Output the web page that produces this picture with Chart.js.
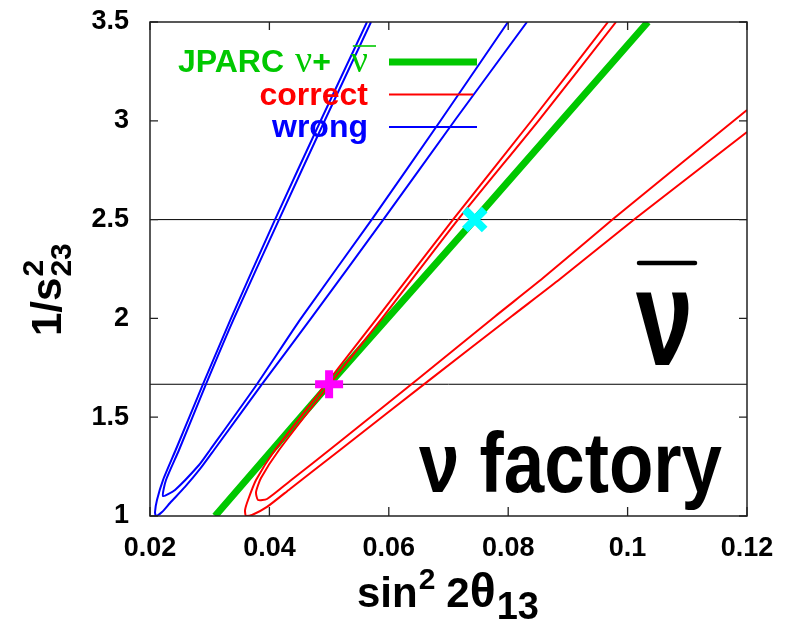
<!DOCTYPE html>
<html><head><meta charset="utf-8">
<script src="https://cdn.jsdelivr.net/npm/chart.js@4.4.1/dist/chart.umd.min.js"></script>
<style>html,body{margin:0;padding:0;background:#fff;}canvas{display:block;}</style>
</head><body>
<canvas id="c" width="796" height="623"></canvas>
<script>
// ---- tick values / labels ----
const xTickValues = [0.02, 0.04, 0.06, 0.08, 0.10, 0.12];
const xTickLabels = ["0.02", "0.04", "0.06", "0.08", "0.1", "0.12"];
const yTickValues = [1, 1.5, 2, 2.5, 3, 3.5];
const yTickLabels = ["1", "1.5", "2", "2.5", "3", "3.5"];

// ---- legend ----
const legendLabels = ["JPARC \u03bd+ \u03bd\u0304", "correct", "wrong"];

// ---- JPARC nu + nubar band (green) ----
const jparcX = [0.0309, 0.0500, 0.0744, 0.1034];
const jparcY = [1.0, 1.667, 2.5, 3.5];

// ---- correct-octant contour (red), outer and inner lines ----
const correctOuterX = [0.09672, 0.08399, 0.07075, 0.05802, 0.04948, 0.04094, 0.03776, 0.03642, 0.03592, 0.03608, 0.03709, 0.0396, 0.04345, 0.0473, 0.05183, 0.0669, 0.08064, 0.08868, 0.10141, 0.12];
const correctOuterY = [3.5, 3.004, 2.5, 2.0, 1.668, 1.334, 1.182, 1.081, 1.030, 1.0, 1.005, 1.046, 1.137, 1.228, 1.334, 1.690, 2.012, 2.199, 2.508, 2.943];
const correctInnerX = [0.09806, 0.08516, 0.07159, 0.05886, 0.05015, 0.04161, 0.03859, 0.03776, 0.03809, 0.0396, 0.04345, 0.0473, 0.05183, 0.06489, 0.07779, 0.08583, 0.09772, 0.12];
const correctInnerY = [3.5, 3.004, 2.5, 2.0, 1.668, 1.334, 1.192, 1.121, 1.081, 1.086, 1.177, 1.268, 1.377, 1.693, 2.010, 2.204, 2.507, 3.055];

// ---- wrong-octant contour (blue), outer and inner lines ----
const wrongOuterX = [0.05635, 0.04864, 0.04094, 0.03357, 0.02888, 0.0243, 0.02218, 0.02117, 0.02084, 0.0210, 0.02201, 0.02335, 0.02586, 0.02838, 0.03072, 0.03876, 0.04697, 0.05908, 0.0711, 0.08315];
const wrongOuterY = [3.5, 3.004, 2.5, 2.0, 1.667, 1.334, 1.182, 1.081, 1.02, 1.0, 1.02, 1.066, 1.147, 1.238, 1.334, 1.667, 2.0, 2.5, 3.004, 3.5];
const wrongInnerX = [0.05702, 0.04931, 0.04161, 0.03407, 0.02938, 0.02486, 0.02268, 0.02218, 0.02419, 0.02821, 0.03005, 0.03792, 0.04529, 0.05714, 0.06874, 0.07997];
const wrongInnerY = [3.5, 3.004, 2.5, 2.0, 1.667, 1.334, 1.182, 1.101, 1.132, 1.258, 1.334, 1.667, 2.0, 2.5, 3.004, 3.5];

// ---- true points and reference lines ----
const plusX = [0.0500], plusY = [1.6667];
const crossX = [0.0744], crossY = [2.5];
const refLineY = [2.5, 1.6667];
const refLineX = [0.02, 0.12];

const zip = (xs, ys) => xs.map((x, i) => ({x: x, y: ys[i]}));

const SANS = '"Liberation Sans", Arial, Helvetica, sans-serif';
const SERIF = '"Liberation Serif", "Times New Roman", serif';

const lineDS = (data, color, width, order, tension) => ({
  data: data, showLine: true, borderColor: color, backgroundColor: color,
  borderWidth: width, pointRadius: 0, fill: false, tension: tension, order: order
});

const datasets = [
  {data: zip(plusX, plusY), showLine: false, pointStyle: 'cross', pointRadius: 14,
   pointBorderWidth: 8, pointBorderColor: '#ff00ff', pointBackgroundColor: '#ff00ff', order: 0},
  {data: zip(crossX, crossY), showLine: false, pointStyle: 'crossRot', pointRadius: 14,
   pointBorderWidth: 8, pointBorderColor: '#00ffff', pointBackgroundColor: '#00ffff', order: 0},
  lineDS(zip(correctOuterX, correctOuterY), '#ff0000', 2, 1, 0.2),
  lineDS(zip(correctInnerX, correctInnerY), '#ff0000', 2, 1, 0.2),
  lineDS(zip(wrongOuterX, wrongOuterY), '#0000ff', 2, 1, 0.2),
  lineDS(zip(wrongInnerX, wrongInnerY), '#0000ff', 2, 1, 0.2),
  lineDS(zip(jparcX, jparcY), '#00c800', 7, 2, 0),
  lineDS(zip(refLineX, [refLineY[0], refLineY[0]]), '#000000', 1, 3, 0),
  lineDS(zip(refLineX, [refLineY[1], refLineY[1]]), '#000000', 1, 3, 0)
];

const framePlugin = {
  id: 'frame',
  afterDatasetsDraw(chart) {
    const {ctx, chartArea: a, scales: {x, y}} = chart;
    ctx.save();
    ctx.strokeStyle = '#222';
    ctx.lineWidth = 1.5;
    ctx.strokeRect(a.left, a.top, a.right - a.left, a.bottom - a.top);
    ctx.lineWidth = 1.3;
    ctx.beginPath();
    xTickValues.forEach(v => {
      const px = x.getPixelForValue(v);
      ctx.moveTo(px, a.bottom); ctx.lineTo(px, a.bottom - 9);
      ctx.moveTo(px, a.top); ctx.lineTo(px, a.top + 8);
    });
    yTickValues.forEach(v => {
      const py = y.getPixelForValue(v);
      ctx.moveTo(a.left, py); ctx.lineTo(a.left + 8, py);
      ctx.moveTo(a.right, py); ctx.lineTo(a.right - 8, py);
    });
    ctx.stroke();
    ctx.restore();
  }
};

function drawPieces(ctx, pieces, x, baseline) {
  pieces.forEach(p => {
    ctx.font = p.font;
    ctx.fillText(p.t, x, baseline + (p.dy || 0));
    x += ctx.measureText(p.t).width + (p.gap || 0);
  });
  return x;
}

const textPlugin = {
  id: 'texts',
  afterDraw(chart) {
    const ctx = chart.ctx;
    ctx.save();
    ctx.textBaseline = 'alphabetic';
    ctx.textAlign = 'left';
    const ds = chart.data.datasets;
    // legend
    const legendColors = [ds[6].borderColor, ds[2].borderColor, ds[4].borderColor];
    const legendWidths = [7, 2, 2];
    const rowY = [62, 94.5, 127];
    const rightX = 368;
    legendLabels.forEach((lab, i) => {
      ctx.fillStyle = legendColors[i];
      if (i === 0) {
        const parts = lab.split(' ');
        const bold = 'bold 32px ' + SANS;
        const nuF = '38px ' + SERIF;
        const pieces = [
          {t: parts[0] + ' ', font: bold, gap: 2},
          {t: '\u03bd', font: nuF},
          {t: '+', font: bold, gap: 20},
          {t: '\u03bd', font: nuF}
        ];
        let w = 0;
        pieces.forEach(p => { ctx.font = p.font; w += ctx.measureText(p.t).width + (p.gap || 0); });
        const start = rightX - w;
        drawPieces(ctx, pieces, start, rowY[i] + 10);
        ctx.font = nuF;
        const nuW = ctx.measureText('\u03bd').width;
        ctx.strokeStyle = legendColors[i];
        ctx.lineWidth = 1.6;
        ctx.beginPath();
        ctx.moveTo(rightX - nuW + 2, rowY[i] - 16);
        ctx.lineTo(rightX + 8, rowY[i] - 16);
        ctx.stroke();
      } else {
        ctx.font = 'bold 32px ' + SANS;
        ctx.textAlign = 'right';
        ctx.fillText(lab, rightX, rowY[i] + 10);
        ctx.textAlign = 'left';
      }
      ctx.strokeStyle = legendColors[i];
      ctx.lineWidth = legendWidths[i];
      ctx.beginPath();
      ctx.moveTo(389, rowY[i]);
      ctx.lineTo(i === 1 ? 473 : 477, rowY[i]);
      ctx.stroke();
    });

    // annotation: nu factory
    ctx.fillStyle = '#000';
    ctx.font = 'bold 86px ' + SANS;
    let tw = ctx.measureText('\u03bd factory').width;
    ctx.save();
    ctx.translate(419, 492);
    ctx.scale(303 / tw, 1);
    ctx.fillText('\u03bd factory', 0, 0);
    ctx.restore();

    // annotation: nu-bar
    ctx.font = 'bold 138px ' + SANS;
    tw = ctx.measureText('\u03bd').width;
    ctx.save();
    ctx.translate(636, 365);
    ctx.scale(57 / tw, 1);
    ctx.fillText('\u03bd', 0, 0);
    ctx.restore();
    ctx.strokeStyle = '#000';
    ctx.lineWidth = 4.5;
    ctx.lineCap = 'round';
    ctx.beginPath();
    ctx.moveTo(639, 263); ctx.lineTo(695, 263);
    ctx.stroke();

    // x axis title
    const big = 'bold 42px ' + SANS;
    const sup = 'bold 30px ' + SANS;
    const sub = 'bold 38px ' + SANS;
    drawPieces(ctx, [
      {t: 'sin', font: big, gap: 1},
      {t: '2', font: sup, dy: -18, gap: 11},
      {t: '2', font: big},
      {t: '\u03b8', font: 'bold 48px ' + SANS, gap: 1},
      {t: '13', font: sub, dy: 12}
    ], 357, 607);

    // y axis title (rotated)
    ctx.save();
    ctx.translate(61, 336);
    ctx.rotate(-Math.PI / 2);
    let px = drawPieces(ctx, [{t: '1/s', font: big}], 0, 0);
    ctx.font = sup;
    ctx.fillText('2', px + 1, -18);
    ctx.fillText('23', px + 1, 10);
    ctx.restore();

    ctx.restore();
  }
};

new Chart(document.getElementById('c'), {
  type: 'scatter',
  data: {datasets: datasets},
  options: {
    responsive: false,
    animation: false,
    events: [],
    layout: {padding: {left: 0, top: 22, right: 49, bottom: 0}},
    plugins: {legend: {display: false}, tooltip: {enabled: false}},
    scales: {
      x: {
        type: 'linear', min: 0.02, max: 0.12,
        afterBuildTicks: s => { s.ticks = xTickValues.map(v => ({value: v})); },
        afterFit: s => { s.height = 107; s.paddingLeft = 0; s.paddingRight = 0; },
        ticks: {
          autoSkip: false, maxRotation: 0, padding: 16, color: '#000',
          font: {family: SANS, size: 27, weight: 'bold'},
          callback: (v, i) => xTickLabels[i]
        },
        grid: {display: false, drawTicks: false},
        border: {display: false}
      },
      y: {
        type: 'linear', min: 1, max: 3.5,
        afterBuildTicks: s => { s.ticks = yTickValues.map(v => ({value: v})); },
        afterFit: s => { s.width = 150; s.paddingTop = 0; s.paddingBottom = 0; },
        ticks: {
          autoSkip: false, padding: 21, color: '#000',
          font: {family: SANS, size: 27, weight: 'bold'},
          callback: (v, i) => yTickLabels[i]
        },
        grid: {display: false, drawTicks: false},
        border: {display: false}
      }
    }
  },
  plugins: [framePlugin, textPlugin]
});
</script>
</body></html>
